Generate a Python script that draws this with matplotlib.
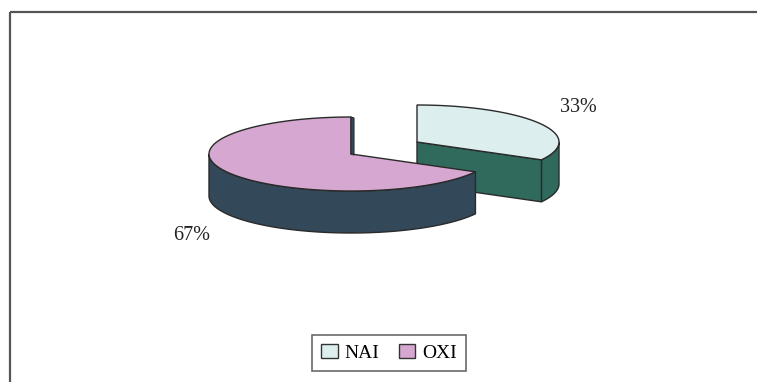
import matplotlib.pyplot as plt
import numpy as np
from matplotlib.patches import Polygon, Rectangle, Patch

labels = ['NAI', 'OXI']
values = [33, 67]
pct_text = ['33%', '67%']

top_colors = ['#dcefee', '#d6a7d0']
side_colors = ['#2f6a5c', '#33495a']
edge = '#2a2a2a'

plt.rcParams['font.family'] = ['Liberation Serif', 'DejaVu Serif']

fig = plt.figure(figsize=(7.57, 3.82), dpi=100)
ax = fig.add_axes([0, 0, 1, 1])
ax.set_xlim(0, 757)
ax.set_ylim(382, 0)
ax.axis('off')

# outer frame of the chart
ax.add_patch(Rectangle((10, 12), 760, 380, fill=False, ec='#555555', lw=1.6))

# pseudo 3d pie (pixel coordinates)
rx, ry, depth = 142, 37, 42
centers = [(417, 142), (351, 154)]   # first slice is exploded up/right


def pt(c, a, dy=0):
    return (c[0] + rx * np.cos(np.radians(a)), c[1] - ry * np.sin(np.radians(a)) + dy)


def wall(c, l, h, side, z):
    arc = np.linspace(l, h, 80)
    upper = [pt(c, a) for a in arc]
    lower = [pt(c, a, depth) for a in arc[::-1]]
    ax.add_patch(Polygon(upper + lower, fc=side, ec=edge, lw=1, zorder=z))


def slice3d(c, a0, a1, top, side, z):
    # a0 < a1, degrees counterclockwise; only the front part of the wall shows
    for lo, hi in ((max(a0, -180), min(a1, 0)), (max(a0, 180), min(a1, 360))):
        if hi > lo:
            wall(c, lo, hi, side, z)
    # radial cut faces facing the viewer
    for a, nrm in ((a0, a0 - 90), (a1, a1 + 90)):
        if np.sin(np.radians(nrm)) < -1e-6:
            p = pt(c, a)
            face = [c, p, (p[0], p[1] + depth), (c[0], c[1] + depth)]
            ax.add_patch(Polygon(face, fc=side, ec=edge, lw=1, zorder=z))
    arc = np.linspace(a0, a1, 150)
    poly = [c] + [pt(c, a) for a in arc]
    ax.add_patch(Polygon(poly, fc=top, ec=edge, lw=1, zorder=z + 0.5))


total = sum(values)
start = 90
spans = []
for v in values:
    end = start - 360 * v / total
    spans.append((end, start))
    start = end

for i, (a0, a1) in enumerate(spans):
    slice3d(centers[i], a0, a1, top_colors[i], side_colors[i], 2 + i)

# thin cut face at the top edge of the big slice
c = centers[1]
ax.add_patch(Polygon([(c[0], c[1] - ry), (c[0] + 3, c[1] - ry + 1), (c[0] + 3, c[1] + 1), c],
                     fc=side_colors[1], ec=edge, lw=0.8, zorder=3.6))

ax.text(578, 108, pct_text[0], fontsize=14.5, color='#222222', ha='center', va='center')
ax.text(192, 236, pct_text[1], fontsize=14.5, color='#222222', ha='center', va='center')

handles = [Patch(fc=top_colors[i], ec='#333333', lw=1) for i in range(len(labels))]
leg = fig.legend(handles, labels, loc='center', bbox_to_anchor=(389 / 757, 1 - 353 / 382),
                 ncol=2, frameon=True, fontsize=14, handlelength=0.85, handleheight=0.75,
                 handletextpad=0.35, columnspacing=1.0, borderpad=0.45, borderaxespad=0,
                 fancybox=False)
leg.get_frame().set_edgecolor('#444444')
leg.get_frame().set_linewidth(1.2)

fig.savefig('out.png', dpi=100)
